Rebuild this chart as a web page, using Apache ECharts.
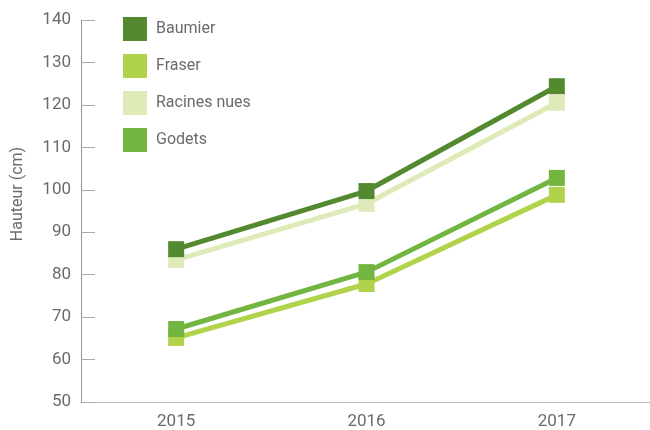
<!DOCTYPE html>
<html>
<head>
<meta charset="utf-8">
<script src="https://cdn.jsdelivr.net/npm/echarts@6/dist/echarts.min.js"></script>
<style>
  html, body { margin: 0; padding: 0; background: #fff; }
  #chart { width: 650px; height: 430px; }
</style>
</head>
<body>
<div id="chart"></div>
<script>
const years = ['2015', '2016', '2017']
const seriesNames = ['Baumier', 'Fraser', 'Racines nues', 'Godets']
const baumier = [86, 99.7, 124.4]
const fraser = [65.1, 77.8, 98.8]
const racines = [83.5, 96.7, 120.5]
const godets = [67.2, 80.6, 102.8]
const colors = {
  'Baumier': '#548a2f',
  'Fraser': '#b0d34b',
  'Racines nues': '#deebb9',
  'Godets': '#72b541'
}

const font = 'Roboto, "Noto Sans", sans-serif'
const makeSeries = (name, data, z) => ({
  name: name,
  type: 'line',
  data: data,
  z: z,
  symbol: 'rect',
  symbolSize: 16,
  showSymbol: true,
  lineStyle: { width: 5, color: colors[name] },
  itemStyle: { color: colors[name] },
  emphasis: { disabled: true }
})

const chart = echarts.init(document.getElementById('chart'))
chart.setOption({
  animation: false,
  grid: { left: 81, top: 20, width: 571, bottom: 28, outerBoundsMode: 'none', containLabel: false },
  legend: {
    data: seriesNames,
    orient: 'vertical',
    left: 118,
    top: 12,
    icon: 'rect',
    itemWidth: 24,
    itemHeight: 24,
    itemGap: 13,
    textStyle: { color: '#6b6b6b', fontSize: 16, fontFamily: font, padding: [0, 0, 0, 4] }
  },
  xAxis: {
    type: 'category',
    data: years,
    axisLine: { lineStyle: { color: '#bbbbbb', width: 1 } },
    axisTick: { inside: true, length: 10, lineStyle: { color: '#aaaaaa' } },
    axisLabel: { color: '#6b6b6b', fontSize: 17, fontFamily: font, margin: 11 }
  },
  yAxis: {
    type: 'value',
    min: 50,
    max: 140,
    interval: 10,
    name: 'Hauteur (cm)',
    nameLocation: 'middle',
    nameGap: 55,
    nameTextStyle: { color: '#6b6b6b', fontSize: 16, fontFamily: font, padding: [0, 0, 0, 34] },
    axisLine: { show: true, lineStyle: { color: '#999999' } },
    axisTick: { show: true, inside: true, length: 14, lineStyle: { color: '#aaaaaa' } },
    axisLabel: { color: '#6b6b6b', fontSize: 17, fontFamily: font, margin: 10 },
    splitLine: { show: false }
  },
  series: [
    makeSeries('Racines nues', racines, 2),
    makeSeries('Baumier', baumier, 3),
    makeSeries('Fraser', fraser, 4),
    makeSeries('Godets', godets, 5)
  ]
})
</script>
</body>
</html>
